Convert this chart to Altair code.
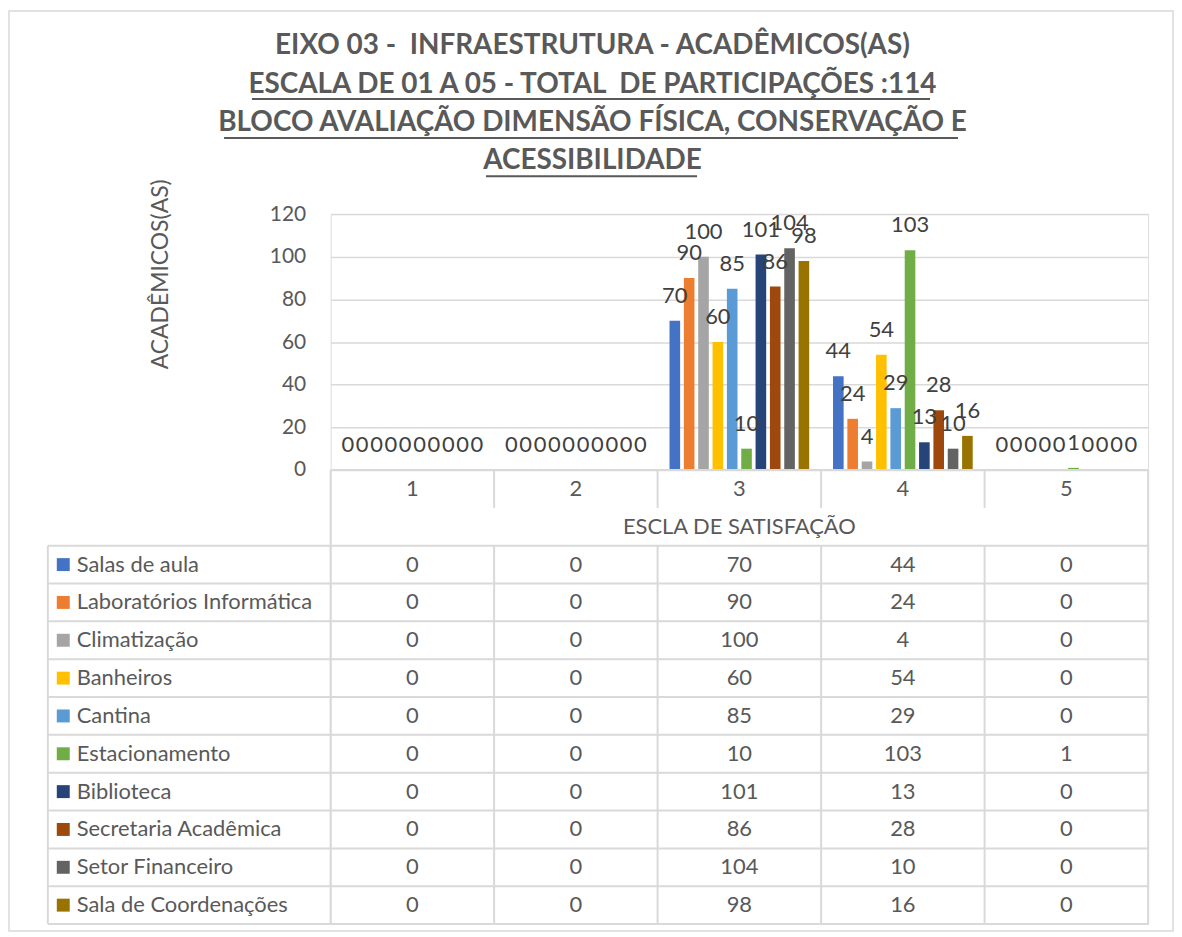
import altair as alt
import pandas as pd

# ---------------- data ----------------
CATS = ["1", "2", "3", "4", "5"]
SERIES = [
    "Salas de aula",
    "Laboratórios Informática",
    "Climatização",
    "Banheiros",
    "Cantina",
    "Estacionamento",
    "Biblioteca",
    "Secretaria Acadêmica",
    "Setor Financeiro",
    "Sala de Coordenações",
]
COLORS = ["#4472C4", "#ED7D31", "#A5A5A5", "#FFC000", "#5B9BD5",
          "#70AD47", "#264478", "#9E480E", "#636363", "#997300"]

salas = [0, 0, 70, 44, 0]
laboratorios = [0, 0, 90, 24, 0]
climatizacao = [0, 0, 100, 4, 0]
banheiros = [0, 0, 60, 54, 0]
cantina = [0, 0, 85, 29, 0]
estacionamento = [0, 0, 10, 103, 1]
biblioteca = [0, 0, 101, 13, 0]
secretaria = [0, 0, 86, 28, 0]
financeiro = [0, 0, 104, 10, 0]
coordenacoes = [0, 0, 98, 16, 0]
VALUES = [salas, laboratorios, climatizacao, banheiros, cantina,
          estacionamento, biblioteca, secretaria, financeiro, coordenacoes]

Y_TICKS = [0, 20, 40, 60, 80, 100, 120]
TITLE_LINES = [
    "EIXO 03 - \u00a0INFRAESTRUTURA - ACADÊMICOS(AS)",
    "ESCALA DE 01 A 05 - TOTAL \u00a0DE PARTICIPAÇÕES :114",
    "BLOCO AVALIAÇÃO DIMENSÃO FÍSICA, CONSERVAÇÃO E",
    "ACESSIBILIDADE",
]
X_TITLE = "ESCLA DE SATISFAÇÃO"
Y_TITLE = "ACADÊMICOS(AS)"

# ---------------- tables built from the lists ----------------
rows = []
for i, (s, vals) in enumerate(zip(SERIES, VALUES)):
    for c, v in zip(CATS, vals):
        rows.append({"series": s, "cat": c, "value": v, "row": i + 2})
df = pd.DataFrame(rows)
series_df = pd.DataFrame({"series": SERIES, "row": list(range(2, 2 + len(SERIES)))})
header_df = pd.DataFrame({"cat": CATS, "row": [0] * len(CATS)})

n_rows = 2 + len(SERIES)
vl = [{"cat": CATS[0], "y0": 0, "y1": n_rows}]
for c in CATS[1:]:
    vl.append({"cat": c, "y0": 0, "y1": 1})
    vl.append({"cat": c, "y0": 2, "y1": n_rows})
vlines_df = pd.DataFrame(vl)
right_df = pd.DataFrame({"cat": [CATS[-1]], "y0": [0], "y1": [n_rows]})
hlines_df = pd.DataFrame({"y": list(range(2, n_rows + 1))})
top_df = pd.DataFrame({"y": [0]})
leftcol_df = pd.DataFrame({"y0": [2], "y1": [n_rows]})
one = pd.DataFrame({"a": [0]})

FONT = "Lato"
GRID = "#D9D9D9"
TXT = "#595959"
FS = 22
W, H = 821, 713
BAR_H = 257

xscale = alt.Scale(domain=CATS, paddingInner=0, paddingOuter=0)
color = alt.Color("series:N", scale=alt.Scale(domain=SERIES, range=COLORS), legend=None)
xoff = alt.XOffset("series:N", scale=alt.Scale(domain=SERIES, paddingInner=0.26, paddingOuter=0.83))
ybar = alt.Scale(domain=[0, 120], range=[BAR_H, 0], nice=False, zero=True)
ytab = alt.Scale(domain=[0, n_rows], range=[BAR_H, H], nice=False, zero=False)

# ---------------- bar part ----------------
bars = alt.Chart(df).mark_bar().encode(
    x=alt.X("cat:N", scale=xscale, axis=None),
    xOffset=xoff,
    y=alt.Y("value:Q", scale=ybar, axis=alt.Axis(
        values=Y_TICKS, grid=True, gridColor=GRID, gridWidth=1.5,
        domain=False, ticks=False, labelPadding=25,
        labelFont=FONT, labelFontSize=21, labelColor=TXT,
        title=Y_TITLE, titleFont=FONT, titleFontSize=23, titleFontWeight="normal",
        titleColor=TXT, titleAngle=270, titleX=-171, titleY=60,
        titleAlign="center", titleBaseline="middle")),
    color=color,
)
bar_labels = alt.Chart(df).mark_text(
    font=FONT, fontSize=FS, color="#404040", baseline="middle", align="center", dy=-25
).encode(
    x=alt.X("cat:N", scale=xscale, axis=None),
    xOffset=xoff,
    y=alt.Y("value:Q", scale=ybar),
    text=alt.Text("value:Q"),
)
bar_group = alt.layer(bars, bar_labels)

# ---------------- data table part ----------------
rule_style = dict(color=GRID, strokeWidth=2)
vlines = alt.Chart(vlines_df).mark_rule(**rule_style).encode(
    x=alt.X("cat:N", scale=xscale, axis=None, bandPosition=0),
    y=alt.Y("y0:Q", scale=ytab, axis=None), y2="y1:Q",
)
vright = alt.Chart(right_df).mark_rule(**rule_style).encode(
    x=alt.X("cat:N", scale=xscale, axis=None, bandPosition=1),
    y=alt.Y("y0:Q", scale=ytab, axis=None), y2="y1:Q",
)
hlines = alt.Chart(hlines_df).mark_rule(**rule_style).encode(
    x=alt.value(-284), x2=alt.value(W),
    y=alt.Y("y:Q", scale=ytab, axis=None),
)
topline = alt.Chart(top_df).mark_rule(**rule_style).encode(
    x=alt.value(0), x2=alt.value(W),
    y=alt.Y("y:Q", scale=ytab, axis=None),
)
leftcol = alt.Chart(leftcol_df).mark_rule(**rule_style).encode(
    x=alt.value(-284),
    y=alt.Y("y0:Q", scale=ytab, axis=None), y2="y1:Q",
)
header = alt.Chart(header_df).transform_calculate(yc="datum.row + 0.5").mark_text(
    font=FONT, fontSize=FS, color=TXT, baseline="middle", align="center"
).encode(
    x=alt.X("cat:N", scale=xscale, axis=None),
    y=alt.Y("yc:Q", scale=ytab, axis=None),
    text="cat:N",
)
xtitle = alt.Chart(one).transform_calculate(yc="1.5").mark_text(
    font=FONT, fontSize=FS, color=TXT, baseline="middle", align="center", text=X_TITLE
).encode(
    x=alt.value(W / 2),
    y=alt.Y("yc:Q", scale=ytab, axis=None),
)
squares = alt.Chart(series_df).transform_calculate(yc="datum.row + 0.5").mark_square(
    size=169, opacity=1, filled=True
).encode(
    x=alt.value(-268.5),
    y=alt.Y("yc:Q", scale=ytab, axis=None),
    color=color,
)
names = alt.Chart(series_df).transform_calculate(yc="datum.row + 0.5").mark_text(
    font=FONT, fontSize=FS, color=TXT, baseline="middle", align="left"
).encode(
    x=alt.value(-255),
    y=alt.Y("yc:Q", scale=ytab, axis=None),
    text="series:N",
)
cells = alt.Chart(df).transform_calculate(yc="datum.row + 0.5").mark_text(
    font=FONT, fontSize=FS, color=TXT, baseline="middle", align="center"
).encode(
    x=alt.X("cat:N", scale=xscale, axis=None),
    y=alt.Y("yc:Q", scale=ytab, axis=None),
    text="value:Q",
)
table_group = alt.layer(vlines, vright, hlines, topline, leftcol, header, xtitle,
                        squares, names, cells)

# ---------------- title and frame ----------------
TX = 263
title_y = [-169, -130, -91, -53]
underline = [(-79, 602, -115.5), (-107, 630, -76.5), (156, 368, -38)]
deco = []
for t, ty in zip(TITLE_LINES, title_y):
    deco.append(alt.Chart(one).mark_text(
        font=FONT, fontSize=28, fontWeight="bold", color=TXT,
        baseline="middle", align="center", text=t
    ).encode(x=alt.value(TX), y=alt.value(ty)))
for x0, x1, uy in underline:
    deco.append(alt.Chart(one).mark_rule(color=TXT, strokeWidth=2).encode(
        x=alt.value(x0), x2=alt.value(x1), y=alt.value(uy)))
frame = alt.Chart(one).mark_rect(filled=False, stroke=GRID, strokeWidth=1.5).encode(
    x=alt.value(-323), x2=alt.value(846), y=alt.value(-204), y2=alt.value(720))

chart = alt.layer(frame, *deco, bar_group, table_group).resolve_scale(
    y="independent"
).properties(
    width=W, height=H,
    autosize=alt.AutoSizeParams(type="none"),
    padding={"left": 324, "top": 205, "right": 26, "bottom": 8},
).configure_view(stroke=None).configure(font=FONT, background="white")

chart.save("out.html", embed_options={"renderer": "svg", "actions": False})
